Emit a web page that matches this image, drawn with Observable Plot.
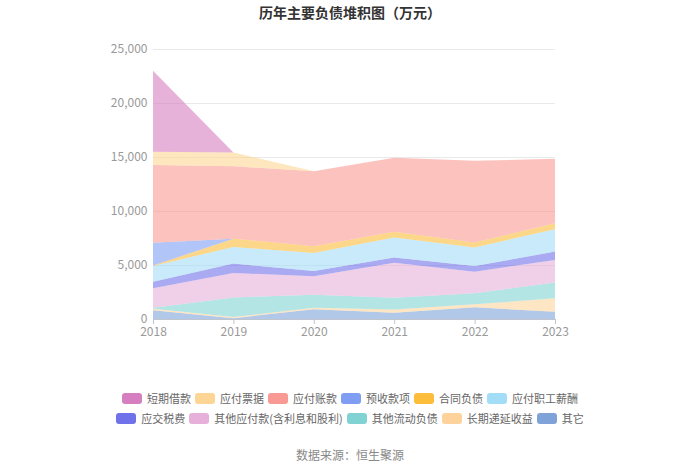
<!DOCTYPE html>
<html>
<head>
<meta charset="utf-8">
<script src="https://cdn.jsdelivr.net/npm/d3@7"></script>
<script src="https://cdn.jsdelivr.net/npm/@observablehq/plot@0.6"></script>
<style>
  body { margin: 0; width: 700px; height: 473px; background: #fff; font-family: "Noto Sans CJK SC", "Noto Sans", sans-serif; overflow: hidden; }
  #title { height: 30px; line-height: 24px; text-align: center; font-size: 14px; font-weight: bold; color: #333; }
  #chart svg { display: block; }
  #legend { margin-top: 38px; }
  .row { display: flex; justify-content: center; height: 20px; align-items: center; }
  .item { display: flex; align-items: center; margin: 0 2px; font-size: 11px; color: #666; }
  .sw { width: 20px; height: 11px; border-radius: 3px; margin-right: 5px; }
  #source { margin-top: 17px; line-height: 20px; text-align: center; font-size: 12px; color: #888; }
</style>
</head>
<body>
<div id="title">历年主要负债堆积图（万元）</div>
<div id="chart"></div>
<div id="legend"></div>
<div id="source">数据来源：恒生聚源</div>
<script>
const years = [2018, 2019, 2020, 2021, 2022, 2023];
// series listed in legend order
const names = ["短期借款", "应付票据", "应付账款", "预收款项", "合同负债", "应付职工薪酬",
               "应交税费", "其他应付款(含利息和股利)", "其他流动负债", "长期递延收益", "其它"];
const colors = ["#d57fc0", "#fdd595", "#f89a93", "#7f9ef3", "#fbbd3a", "#a3dcf7",
                "#6f72e8", "#e6b0da", "#80d3d2", "#fdd39b", "#7fa3d8"];
const 短期借款 = [7500, 0, 0, 0, 0, 0];
const 应付票据 = [1230, 1270, 0, 0, 0, 0];
const 应付账款 = [7190, 6700, 6940, 6850, 7560, 5960];
const 预收款项 = [2110, 0, 0, 0, 0, 0];
const 合同负债 = [50, 770, 620, 520, 460, 560];
const 应付职工薪酬 = [1450, 1540, 1670, 1850, 1730, 2070];
const 应交税费 = [610, 870, 500, 500, 520, 770];
const 其他应付款 = [1790, 2280, 1700, 3240, 2000, 2100];
const 其他流动负债 = [100, 1800, 1200, 1080, 1020, 1450];
const 长期递延收益 = [150, 100, 150, 300, 280, 1240];
const 其它 = [800, 80, 900, 580, 1080, 680];
const yTicks = [0, 5000, 10000, 15000, 20000, 25000];

const seriesValues = [短期借款, 应付票据, 应付账款, 预收款项, 合同负债, 应付职工薪酬,
                      应交税费, 其他应付款, 其他流动负债, 长期递延收益, 其它];

// stack bottom-to-top: reverse of legend order
const data = [];
for (let i = names.length - 1; i >= 0; i--) {
  years.forEach((yr, j) => data.push({ year: yr, name: names[i], value: seriesValues[i][j] }));
}

const plot = Plot.plot({
  width: 700,
  height: 320,
  marginTop: 19,
  marginBottom: 31,
  marginLeft: 153,
  marginRight: 145,
  style: { fontFamily: "'Noto Sans CJK SC', 'Noto Sans', sans-serif", fontSize: "12px", color: "#999" },
  x: { domain: [2018, 2023], label: null },
  y: { domain: [0, 25000], label: null },
  color: { domain: names, range: colors },
  marks: [
    Plot.gridY(yTicks, { stroke: "#e9e9e9", strokeOpacity: 1 }),
    Plot.areaY(data, { x: "year", y: "value", z: "name", fill: "name", fillOpacity: 0.6, order: null }),
    Plot.ruleY([0], { stroke: "#c0c4cc" }),
    Plot.axisY({ ticks: yTicks, tickFormat: d3.format(","), tickSize: 0, tickPadding: 6, fill: "#999", label: null }),
    Plot.axisX({ ticks: years, tickFormat: d => String(d), tickSize: 5, stroke: "#c0c4cc", tickPadding: 3, fill: "#999", fontSize: 12, label: null })
  ]
});
document.getElementById("chart").appendChild(plot);

const legend = document.getElementById("legend");
[names.slice(0, 6), names.slice(6)].forEach((rowNames, r) => {
  const row = document.createElement("div");
  row.className = "row";
  rowNames.forEach((n, k) => {
    const idx = r * 6 + k;
    const it = document.createElement("div");
    it.className = "item";
    it.innerHTML = `<span class="sw" style="background:${colors[idx]}"></span><span>${n}</span>`;
    row.appendChild(it);
  });
  legend.appendChild(row);
});
</script>
</body>
</html>
